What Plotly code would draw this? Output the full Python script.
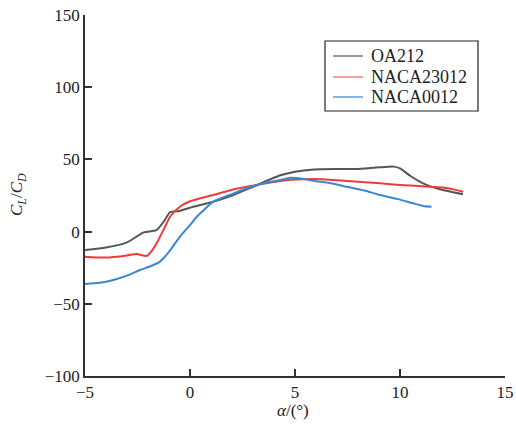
import plotly.graph_objects as go

oa212_a = [-5, -4, -3, -2.2, -1.6, -1.2, -0.95, -0.5, 0, 1.1, 2, 3, 4.3, 5, 5.9, 7, 7.9, 9, 9.7, 10, 10.5, 11.1, 11.9, 13]
oa212_v = [-12.7, -11, -7.5, -0.5, 1, 8, 13.4, 14.3, 16.5, 20.7, 25, 31, 39, 41.5, 43, 43.3, 43.3, 44.5, 45, 43.8, 38.5, 33.4, 29.3, 25.8]

naca23012_a = [-5, -4, -3, -2.54, -2.06, -1.8, -1.59, -1.2, -0.95, -0.48, 0, 1.1, 2, 2.7, 3.5, 4.3, 5, 5.9, 7, 8, 9.05, 10, 11.4, 12.3, 13]
naca23012_v = [-17.4, -18, -16.5, -15.5, -16.9, -13, -8.1, 3, 10.3, 17.2, 21, 25.3, 29, 31.1, 33.2, 35, 36, 36.4, 35.6, 34.6, 33.4, 32.3, 31.1, 30, 27.6]

naca0012_a = [-5, -4.3, -3.65, -3, -2.38, -1.8, -1.43, -1, -0.48, 0, 0.32, 0.7, 1.11, 2, 2.7, 3.5, 4.3, 4.76, 5.3, 5.87, 6.7, 7.46, 8.3, 9.05, 9.9, 10.63, 11.1, 11.5]
naca0012_v = [-36.3, -35.5, -33.5, -30.5, -26.6, -23.5, -20.8, -14, -3.5, 4.5, 10.3, 15.5, 20.7, 26, 30, 33.5, 35.7, 37.3, 36.8, 35.2, 33.5, 31.1, 28.5, 25.3, 22.5, 19.6, 17.8, 17.2]

series_names = ["OA212", "NACA23012", "NACA0012"]
series_colors = ["#555555", "#ee3b3b", "#3a87d0"]
legend_colors = ["#777777", "#f08080", "#5a9ee0"]

x_ticks = [-5, 0, 5, 10, 15]
x_tick_text = ["\u22125", "0", "5", "10", "15"]
y_ticks = [-100, -50, 0, 50, 100, 150]
y_tick_text = ["\u2212100", "\u221250", "0", "50", "100", "150"]

x_title = "<i>\u03b1</i>/(\u00b0)"
y_title = "<i>C</i><sub><i>L</i></sub>/<i>C</i><sub><i>D</i></sub>"

font = "Liberation Serif, Times New Roman, serif"

W, H = 516, 427
ML, MR, MT, MB = 85, 11, 15, 51
PW, PH = W - ML - MR, H - MT - MB


def px(x):
    return (x - ML) / PW


def py(y):
    return (H - MB - y) / PH


fig = go.Figure()
data = [(oa212_a, oa212_v), (naca23012_a, naca23012_v), (naca0012_a, naca0012_v)]
for (a, v), name, color in zip(data, series_names, series_colors):
    fig.add_trace(go.Scatter(x=a, y=v, mode="lines", name=name, showlegend=False,
                             line=dict(color=color, width=2, shape="spline", smoothing=0.6)))

shapes = [dict(type="rect", xref="paper", yref="paper", x0=px(325), x1=px(478), y0=py(111), y1=py(41),
               line=dict(color="#222222", width=1.2), fillcolor="white", layer="above")]
annotations = []
row_y = [56, 77, 97]
for ry, name, color in zip(row_y, series_names, legend_colors):
    shapes.append(dict(type="line", xref="paper", yref="paper", x0=px(333), x1=px(363), y0=py(ry), y1=py(ry),
                       line=dict(color=color, width=1.5), layer="above"))
    annotations.append(dict(xref="paper", yref="paper", x=px(369), y=py(ry), xanchor="left", yanchor="middle",
                            text=name, showarrow=False, font=dict(family=font, size=18, color="#222222")))

annotations.append(dict(xref="paper", yref="paper", x=px(293), y=py(410), xanchor="center", yanchor="middle",
                        text=x_title, showarrow=False, font=dict(family=font, size=17, color="#222222")))
annotations.append(dict(xref="paper", yref="paper", x=px(18), y=py(195), xanchor="center", yanchor="middle",
                        text=y_title, textangle=-90, showarrow=False,
                        font=dict(family=font, size=17, color="#222222")))

fig.update_layout(
    width=W, height=H,
    margin=dict(l=ML, r=MR, t=MT, b=MB, autoexpand=False),
    paper_bgcolor="white", plot_bgcolor="white",
    font=dict(family=font, size=17, color="#222222"),
    showlegend=False,
    shapes=shapes,
    annotations=annotations,
    xaxis=dict(range=[-5, 15], tickvals=x_ticks, ticktext=x_tick_text, automargin=False,
               showgrid=False, zeroline=False, showline=True, linecolor="#333333", linewidth=1.5,
               ticks="inside", ticklen=7, tickwidth=1.5, tickcolor="#333333"),
    yaxis=dict(range=[-100, 150], tickvals=y_ticks, ticktext=y_tick_text, automargin=False,
               showgrid=False, zeroline=False, showline=True, linecolor="#333333", linewidth=1.5,
               ticks="inside", ticklen=7, tickwidth=1.5, tickcolor="#333333"),
)

fig.write_html("out.html", config={"displayModeBar": False},
               post_script="document.body.style.margin='0';document.body.style.overflow='hidden';")
